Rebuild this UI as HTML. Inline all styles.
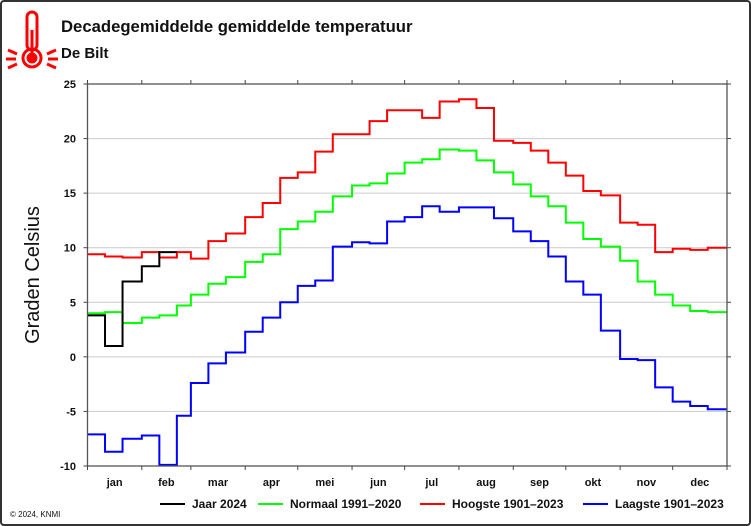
<!DOCTYPE html>
<html><head><meta charset="utf-8"><style>
html,body{margin:0;padding:0;background:#fff}
svg{display:block;font-family:"Liberation Sans",Arial,sans-serif}
</style></head><body>
<svg id="chart" width="751" height="526" viewBox="0 0 751 526">
<rect x="1" y="1" width="749" height="524" rx="3" fill="#fff" stroke="#333" stroke-width="2"/>
<g stroke="#f00" fill="none" stroke-width="3">
<rect x="27" y="12" width="10" height="38" rx="5"/>
<circle cx="32" cy="58" r="9"/>
<circle cx="32" cy="58" r="4" fill="#f00"/>
<line x1="32" y1="30" x2="32" y2="55"/>
<line x1="8" y1="50" x2="17" y2="54"/><line x1="6" y1="59" x2="16" y2="59"/><line x1="8" y1="68" x2="17" y2="64"/>
<line x1="56" y1="50" x2="47" y2="54"/><line x1="58" y1="59" x2="48" y2="59"/><line x1="56" y1="68" x2="47" y2="64"/>
</g>
<text x="61" y="32" font-size="16.7" font-weight="bold" fill="#111">Decadegemiddelde gemiddelde temperatuur</text>
<text x="61" y="58" font-size="15" font-weight="bold" fill="#111">De Bilt</text>
<text transform="translate(39,275) rotate(-90)" text-anchor="middle" font-size="20" fill="#111">Graden Celsius</text>
<text x="10" y="517" font-size="8" fill="#111">© 2024, KNMI</text>
<g id="grid"></g><g id="series"></g><g id="axes"></g><g id="legend"></g>
</svg>
<script>
const months=["jan","feb","mar","apr","mei","jun","jul","aug","sep","okt","nov","dec"];
const monthDays=[31,28,31,30,31,30,31,31,30,31,30,31];
const yTicks=[-10,-5,0,5,10,15,20,25];
const jaar2024=[3.8,1.0,6.9,8.3,9.6];
const normaal=[4.0,4.1,3.1,3.6,3.8,4.7,5.7,6.7,7.3,8.7,9.4,11.7,12.4,13.3,14.7,15.7,15.9,16.8,17.8,18.1,19.0,18.9,18.0,16.9,15.8,14.7,13.8,12.3,10.8,10.1,8.8,6.9,5.7,4.7,4.2,4.1];
const hoogste=[9.4,9.2,9.1,9.6,9.1,9.6,9.0,10.6,11.3,12.8,14.1,16.4,16.9,18.8,20.4,20.4,21.6,22.6,22.6,21.9,23.4,23.6,22.8,19.8,19.6,18.9,17.8,16.6,15.2,14.8,12.3,12.1,9.6,9.9,9.8,10.0];
const laagste=[-7.1,-8.7,-7.5,-7.2,-9.9,-5.4,-2.4,-0.6,0.4,2.3,3.6,5.0,6.5,7.0,10.1,10.5,10.4,12.4,12.8,13.8,13.3,13.7,13.7,12.7,11.5,10.6,9.2,6.9,5.7,2.4,-0.2,-0.3,-2.8,-4.1,-4.5,-4.8];
const seriesNames=["Jaar 2024","Normaal 1991\u20132020","Hoogste 1901\u20132023","Laagste 1901\u20132023"];
const X0=87.5,X1=727,Y0=84,Y1=466,YMIN=-10,YMAX=25;
const NS="http://www.w3.org/2000/svg";
const xDay=d=>X0+d*(X1-X0)/365;
const yVal=v=>Y1-(v-YMIN)*(Y1-Y0)/(YMAX-YMIN);
const monthStart=[];let acc=0;for(const m of monthDays){monthStart.push(acc);acc+=m;}monthStart.push(365);
const decB=[];for(let i=0;i<12;i++){decB.push(monthStart[i],monthStart[i]+10,monthStart[i]+20);}decB.push(365);
function mk(tag,attrs,parent){const e=document.createElementNS(NS,tag);for(const k in attrs)e.setAttribute(k,attrs[k]);parent.appendChild(e);return e;}
const grid=document.getElementById('grid'),axes=document.getElementById('axes'),ser=document.getElementById('series'),leg=document.getElementById('legend');
yTicks.forEach(t=>{const y=yVal(t);
 if(t>YMIN&&t<YMAX){const g=mk('line',{x1:X0,x2:X1,y1:y,y2:y,stroke:'#ccc','stroke-width':1},grid);
 
 }
 const l=mk('text',{x:76,y:y+4,'text-anchor':'end','font-size':11,'font-weight':'bold',fill:'#111'},axes);l.textContent=t;
 
 
 mk('line',{x1:X0-4,x2:X0,y1:y,y2:y,stroke:'#444'},axes);mk('line',{x1:X1,x2:X1+4,y1:y,y2:y,stroke:'#444'},axes);
});
const frame=mk('rect',{x:X0,y:Y0,width:X1-X0,height:Y1-Y0,fill:'none',stroke:'#555','stroke-width':1.3},axes);


for(let i=0;i<=12;i++){const x=xDay(monthStart[i]);mk('line',{x1:x,x2:x,y1:Y0-4,y2:Y0,stroke:'#444'},axes);mk('line',{x1:x,x2:x,y1:Y1,y2:Y1+4,stroke:'#444'},axes);}
months.forEach((m,i)=>{const x=xDay((monthStart[i]+monthStart[i+1])/2);
 const t=mk('text',{x:x,y:486,'text-anchor':'middle','font-size':11,'font-weight':'bold',fill:'#111'},axes);t.textContent=m;
 
 });
function stepPath(vals){let d='';vals.forEach((v,i)=>{const y=yVal(v),xa=xDay(decB[i]),xb=xDay(decB[i+1]);d+=(i===0?'M':'L')+xa+','+y+'L'+xb+','+y;});return d;}
const colors=['#000','#0f0','#f00','#00f'];
[[normaal,1,'normaal-line'],[hoogste,2,'hoogste-line'],[laagste,3,'laagste-line'],[jaar2024,0,'jaar-2024-line']].forEach(([v,c,n])=>{
 const p=mk('path',{d:stepPath(v),fill:'none',stroke:colors[c],'stroke-width':2},ser);
 
 });
const legX=[160,258,420,583];
seriesNames.forEach((s,i)=>{const g=mk('g',{},leg);
 
 
 mk('line',{x1:legX[i],x2:legX[i]+25,y1:504,y2:504,stroke:colors[i],'stroke-width':2},g);
 const t=mk('text',{x:legX[i]+32,y:508,'font-size':12,'font-weight':'bold',fill:'#111'},g);t.textContent=s;});
</script>
</body></html>
